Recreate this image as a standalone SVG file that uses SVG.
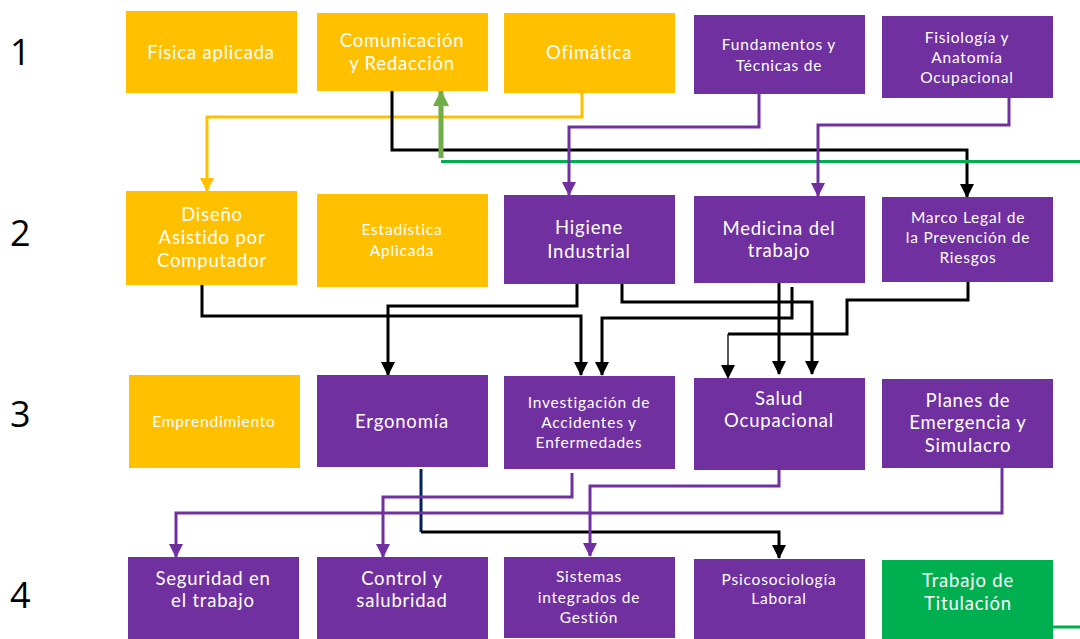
<svg xmlns="http://www.w3.org/2000/svg" width="1080" height="639" viewBox="0 0 1080 639">
<defs>
<style>
.y{fill:#FFC000}
.p{fill:#7030A0}
.g{fill:#00B050}
.t{font-family:Lato,"Open Sans","Liberation Sans",sans-serif;fill:#FFFFFF;text-anchor:middle;letter-spacing:0.8px}
.b{font-size:18.5px}
.s{font-size:15.5px}
.num{font-family:"Open Sans","Liberation Sans",sans-serif;font-size:36px;fill:#000}
.c{fill:none;stroke-width:3}
.k{stroke:#000}
.pc{stroke:#7030A0}
.yc{stroke:#FFC000}
</style>
<marker id="ak" markerUnits="userSpaceOnUse" markerWidth="14" markerHeight="14" refX="13" refY="7" orient="auto"><path d="M0,0 L14,7 L0,14 z" fill="#000"/></marker>
<marker id="ap" markerUnits="userSpaceOnUse" markerWidth="14" markerHeight="14" refX="13" refY="7" orient="auto"><path d="M0,0 L14,7 L0,14 z" fill="#7030A0"/></marker>
<marker id="ay" markerUnits="userSpaceOnUse" markerWidth="14" markerHeight="14" refX="13" refY="7" orient="auto"><path d="M0,0 L14,7 L0,14 z" fill="#FFC000"/></marker>
<marker id="ag" markerUnits="userSpaceOnUse" markerWidth="16" markerHeight="16" refX="15" refY="8" orient="auto"><path d="M0,0 L16,8 L0,16 z" fill="#70AD47"/></marker>
</defs>
<rect width="1080" height="639" fill="#FFFFFF"/>
<g id="labels">
<text class="num" x="10" y="65">1</text>
<text class="num" x="10" y="246">2</text>
<text class="num" x="10" y="427">3</text>
<text class="num" x="10" y="608">4</text>
</g>
<g id="connectors">
<path class="c yc" d="M582,93 V117 H207 V191" marker-end="url(#ay)"/>
<path class="c k" d="M392,91 V150 H967 V197" marker-end="url(#ak)"/>
<path fill="none" stroke="#00B050" stroke-width="3" d="M441,161.5 H1080"/>
<path fill="none" stroke="#70AD47" stroke-width="5" d="M441,158 V91" marker-end="url(#ag)"/>
<path class="c pc" d="M759,94 V127 H569 V195" marker-end="url(#ap)"/>
<path class="c pc" d="M1009,98 V125 H818 V196" marker-end="url(#ap)"/>
<path class="c k" d="M202,285 V316 H581 V375" marker-end="url(#ak)"/>
<path class="c k" d="M577,284 V306 H388 V375" marker-end="url(#ak)"/>
<path class="c k" d="M622,284 V302 H812 V374" marker-end="url(#ak)"/>
<path class="c k" d="M779,283 V374" marker-end="url(#ak)"/>
<path class="c k" d="M792,287 V318 H602 V375" marker-end="url(#ak)"/>
<path class="c k" d="M968,282 V300 H847 V334 H728"/>
<path fill="none" stroke="#000" stroke-width="1.3" d="M728,334 V378" marker-end="url(#ak)"/>
<path fill="none" stroke="#002060" stroke-width="3" d="M421,469 V532"/>
<path class="c k" d="M421,532 H779 V558" marker-end="url(#ak)"/>
<path class="c pc" d="M572,473 V497 H383 V557" marker-end="url(#ap)"/>
<path class="c pc" d="M1002,468 V513 H176 V557" marker-end="url(#ap)"/>
<path class="c pc" d="M779,470 V486 H590 V556" marker-end="url(#ap)"/>
<path fill="none" stroke="#00B050" stroke-width="3" d="M1053,627 H1080"/>
</g>
<g id="fisica"><rect class="y" x="126" y="11" width="171" height="82"/><text class="t b" x="211" y="59">Física aplicada</text></g>
<g id="comunicacion"><rect class="y" x="317" y="13" width="171" height="78"/><text class="t b" x="402" y="47">Comunicación</text><text class="t b" x="402" y="70">y Redacción</text></g>
<g id="ofimatica"><rect class="y" x="504" y="13" width="171" height="80"/><text class="t b" x="589" y="59">Ofimática</text></g>
<g id="fundamentos"><rect class="p" x="694" y="15" width="171" height="79"/><text class="t s" x="779" y="50">Fundamentos y</text><text class="t s" x="779" y="71">Técnicas de</text></g>
<g id="fisiologia"><rect class="p" x="882" y="16" width="171" height="82"/><text class="t s" x="967" y="43">Fisiología y</text><text class="t s" x="967" y="63">Anatomía</text><text class="t s" x="967" y="83">Ocupacional</text></g>
<g id="diseno"><rect class="y" x="126" y="191" width="171" height="94"/><text class="t b" x="212" y="221">Diseño</text><text class="t b" x="212" y="244">Asistido por</text><text class="t b" x="212" y="267">Computador</text></g>
<g id="estadistica"><rect class="y" x="317" y="194" width="171" height="93"/><text class="t s" x="402" y="235">Estadística</text><text class="t s" x="402" y="256">Aplicada</text></g>
<g id="higiene"><rect class="p" x="504" y="195" width="171" height="89"/><text class="t b" x="589" y="234">Higiene</text><text class="t b" x="589" y="258">Industrial</text></g>
<g id="medicina"><rect class="p" x="694" y="196" width="171" height="87"/><text class="t b" x="779" y="235">Medicina del</text><text class="t b" x="779" y="257">trabajo</text></g>
<g id="marco"><rect class="p" x="882" y="197" width="171" height="85"/><text class="t s" x="968" y="223">Marco Legal de</text><text class="t s" x="968" y="243">la Prevención de</text><text class="t s" x="968" y="263">Riesgos</text></g>
<g id="emprendimiento"><rect class="y" x="129" y="375" width="171" height="93"/><text class="t s" x="214" y="427">Emprendimiento</text></g>
<g id="ergonomia"><rect class="p" x="317" y="375" width="171" height="92"/><text class="t b" x="402" y="428">Ergonomía</text></g>
<g id="investigacion"><rect class="p" x="504" y="376" width="171" height="93"/><text class="t s" x="589" y="408">Investigación de</text><text class="t s" x="589" y="428">Accidentes y</text><text class="t s" x="589" y="448">Enfermedades</text></g>
<g id="salud"><rect class="p" x="694" y="378" width="171" height="92"/><text class="t b" x="779" y="405">Salud</text><text class="t b" x="779" y="427">Ocupacional</text></g>
<g id="planes"><rect class="p" x="882" y="379" width="171" height="89"/><text class="t b" x="968" y="407">Planes de</text><text class="t b" x="968" y="429">Emergencia y</text><text class="t b" x="968" y="452">Simulacro</text></g>
<g id="seguridad"><rect class="p" x="128" y="557" width="171" height="82"/><text class="t b" x="213" y="585">Seguridad en</text><text class="t b" x="213" y="607">el trabajo</text></g>
<g id="control"><rect class="p" x="317" y="557" width="171" height="82"/><text class="t b" x="402" y="585">Control y</text><text class="t b" x="402" y="607">salubridad</text></g>
<g id="sistemas"><rect class="p" x="504" y="557" width="171" height="81"/><text class="t s" x="589" y="582">Sistemas</text><text class="t s" x="589" y="603">integrados de</text><text class="t s" x="589" y="623">Gestión</text></g>
<g id="psico"><rect class="p" x="694" y="559" width="171" height="80"/><text class="t s" x="779" y="585">Psicosociología</text><text class="t s" x="779" y="604">Laboral</text></g>
<g id="trabajo"><rect class="g" x="882" y="560" width="171" height="79"/><text class="t b" x="968" y="587">Trabajo de</text><text class="t b" x="968" y="610">Titulación</text></g>
</svg>
